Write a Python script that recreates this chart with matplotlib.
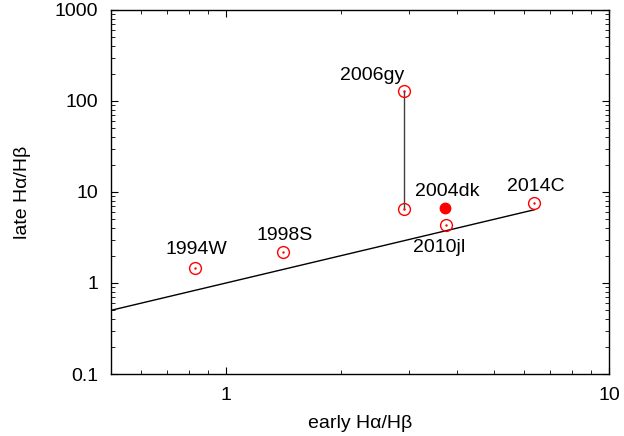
import matplotlib
matplotlib.use('Agg')
import matplotlib.pyplot as plt
from matplotlib.ticker import LogLocator, NullFormatter, FixedLocator, FixedFormatter

plt.rcParams['font.family'] = ['Liberation Sans', 'DejaVu Sans']

# supernovae: early and late Halpha/Hbeta ratios
names = ['1994W', '1998S', '2006gy', '2006gy', '2010jl', '2014C']
early = [0.83, 1.41, 2.92, 2.92, 3.76, 6.38]
late = [1.46, 2.19, 128.8, 6.5, 4.34, 7.57]

# filled point
dk_name = '2004dk'
dk_early = 3.72
dk_late = 6.67

# one-to-one reference line
ref_x = [0.5, 6.38]
ref_y = [0.5, 6.38]

# label placement (offset in points)
label_off = {'1994W': (1, 13), '1998S': (1, 12), '2006gy': (-23, 11.5),
             '2010jl': (-5, -16), '2014C': (1, 12)}

fig = plt.figure(figsize=(6.24, 4.36), dpi=100)
ax = fig.add_axes([0.1774, 0.1422, 0.7986, 0.8349])

ax.plot(ref_x, ref_y, color='black', lw=1.0)
ax.plot([early[2], early[3]], [late[2], late[3]], color='#404040', lw=1.0)

ax.plot(early, late, 'o', ms=8.5, mfc='none', mec='red', mew=1.0, ls='none')
ax.plot(early, late, '.', ms=1.5, color='red', ls='none')
ax.plot(dk_early, dk_late, 'o', ms=7.5, color='red')

done = set()
for n, xv, yv in zip(names, early, late):
    if n in done:
        continue
    done.add(n)
    if n == '2006gy':
        yv = max(l for nn, l in zip(names, late) if nn == n)
    dx, dy = label_off[n]
    ax.annotate(n, (xv, yv), xytext=(dx, dy), textcoords='offset points',
                ha='center', va='center', fontsize=14)
ax.annotate(dk_name, (dk_early, dk_late), xytext=(2, 12), textcoords='offset points',
            ha='center', va='center', fontsize=14)

ax.set_xscale('log')
ax.set_yscale('log')
ax.set_xlim(0.5, 10)
ax.set_ylim(0.1, 1000)

ax.xaxis.set_major_locator(FixedLocator([1, 10]))
ax.xaxis.set_major_formatter(FixedFormatter(['1', '10']))
ax.xaxis.set_minor_locator(LogLocator(base=10, subs=range(2, 10)))
ax.xaxis.set_minor_formatter(NullFormatter())
ax.yaxis.set_major_locator(FixedLocator([0.1, 1, 10, 100, 1000]))
ax.yaxis.set_major_formatter(FixedFormatter(['0.1', '1', '10', '100', '1000']))
ax.yaxis.set_minor_locator(LogLocator(base=10, subs=range(2, 10)))
ax.yaxis.set_minor_formatter(NullFormatter())

ax.tick_params(which='both', direction='in', top=True, right=True, labelsize=14, pad=9)
ax.tick_params(which='major', length=5, width=0.8)
ax.tick_params(which='minor', length=3, width=0.6)
for s in ax.spines.values():
    s.set_linewidth(1.0)

ax.set_xlabel('early H\u03b1/H\u03b2', fontsize=14, labelpad=8)
ax.set_ylabel('late H\u03b1/H\u03b2', fontsize=14, labelpad=17)

fig.savefig('out.png', dpi=100)
